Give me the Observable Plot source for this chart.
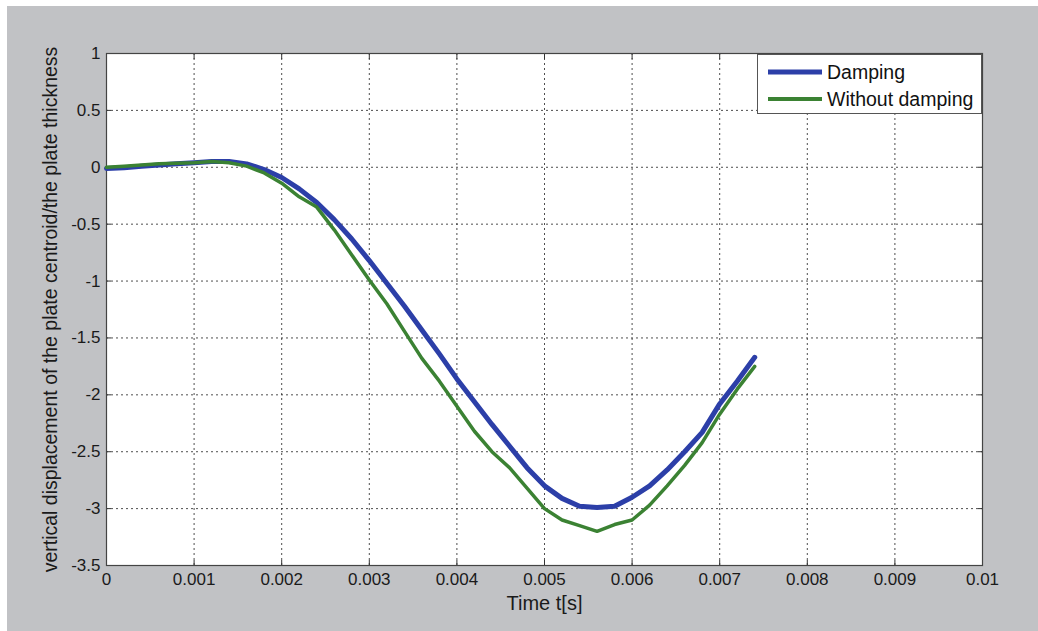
<!DOCTYPE html>
<html>
<head>
<meta charset="utf-8">
<script src="https://cdn.jsdelivr.net/npm/d3@7"></script>
<script src="https://cdn.jsdelivr.net/npm/@observablehq/plot@0.6"></script>
<style>
  html, body { margin: 0; padding: 0; background: #ffffff; }
  #bg { position: absolute; left: 7px; top: 6px; width: 1031px; height: 625px; background: #c1c2c5; }
  #chart { position: absolute; left: 0; top: 0; }
  #legend { position: absolute; left: 757px; top: 54px; width: 225px; height: 60px; background: #fff;
            border: 1px solid #555; box-sizing: border-box; font-family: "Liberation Sans", Arial, sans-serif;
            font-size: 19.5px; color: #111; }
  .row { position: absolute; left: 10px; display: flex; align-items: center; line-height: 22px; }
  .sw { display: inline-block; width: 54px; height: 20px; margin-right: 5px; }
</style>
</head>
<body>
<div id="bg"></div>
<div id="chart"></div>
<div id="legend">
  <div class="row" style="top:6px"><span class="sw" id="sw1"></span><span>Damping</span></div>
  <div class="row" style="top:33px"><span class="sw" id="sw2"></span><span>Without damping</span></div>
</div>
<script>
const time = [0, 0.0002, 0.0004, 0.0006, 0.0008, 0.001, 0.0012, 0.0014, 0.0016, 0.0018, 0.002, 0.0022, 0.0024, 0.0026, 0.0028, 0.003, 0.0032, 0.0034, 0.0036, 0.0038, 0.004, 0.0042, 0.0044, 0.0046, 0.0048, 0.005, 0.0052, 0.0054, 0.0056, 0.0058, 0.006, 0.0062, 0.0064, 0.0066, 0.0068, 0.007, 0.0072, 0.0074];
const damping = [-0.01, -0.005, 0.01, 0.02, 0.03, 0.04, 0.05, 0.05, 0.03, -0.02, -0.09, -0.19, -0.31, -0.46, -0.63, -0.82, -1.02, -1.22, -1.43, -1.64, -1.86, -2.06, -2.26, -2.45, -2.64, -2.8, -2.91, -2.98, -2.99, -2.98, -2.9, -2.8, -2.66, -2.5, -2.33, -2.08, -1.88, -1.67];
const withoutDamping = [0, 0.01, 0.02, 0.03, 0.035, 0.04, 0.05, 0.04, 0.01, -0.05, -0.14, -0.26, -0.35, -0.55, -0.77, -0.99, -1.2, -1.44, -1.68, -1.88, -2.1, -2.32, -2.5, -2.64, -2.82, -3.0, -3.1, -3.15, -3.2, -3.14, -3.1, -2.97, -2.8, -2.62, -2.42, -2.17, -1.95, -1.75];
const xTicks = [0, 0.001, 0.002, 0.003, 0.004, 0.005, 0.006, 0.007, 0.008, 0.009, 0.01];
const yTicks = [1, 0.5, 0, -0.5, -1, -1.5, -2, -2.5, -3, -3.5];
const seriesNames = ["Damping", "Without damping"];
const colors = ["#2c3fa8", "#3b8233"];

const dampData = time.map((t, i) => ({t, v: damping[i]}));
const noDampData = time.map((t, i) => ({t, v: withoutDamping[i]}));

const fmt = d => String(d);
const chart = Plot.plot({
  width: 1038, height: 631,
  marginTop: 53, marginRight: 56, marginBottom: 66, marginLeft: 106,
  style: { background: "transparent", fontFamily: "Liberation Sans, Arial, sans-serif", fontSize: "17px", color: "#1a1a1a" },
  x: { domain: [0, 0.01], ticks: xTicks },
  y: { domain: [-3.5, 1], ticks: yTicks },
  marks: [
    Plot.frame({ fill: "white", stroke: null }),
    Plot.gridX(xTicks.slice(1, -1), { stroke: "#222", strokeOpacity: 0.8, strokeDasharray: "2,3", strokeWidth: 1 }),
    Plot.gridY(yTicks.slice(1, -1), { stroke: "#222", strokeOpacity: 0.8, strokeDasharray: "2,3", strokeWidth: 1 }),
    Plot.text(xTicks, { x: d => d, frameAnchor: "bottom", dy: 14, lineAnchor: "middle", text: fmt, fontSize: 17, fill: "#1a1a1a" }),
    Plot.text(yTicks, { y: d => d, frameAnchor: "left", dx: -6, textAnchor: "end", text: fmt, fontSize: 17, fill: "#1a1a1a" }),
    Plot.axisX({ ticks: xTicks, anchor: "bottom", tickSize: -5, tickFormat: () => "", label: null, stroke: "#333" }),
    Plot.axisX({ ticks: xTicks, anchor: "top", tickSize: -5, tickFormat: () => "", label: null, stroke: "#333" }),
    Plot.axisY({ ticks: yTicks, anchor: "left", tickSize: -5, tickFormat: () => "", label: null, stroke: "#333" }),
    Plot.axisY({ ticks: yTicks, anchor: "right", tickSize: -5, tickFormat: () => "", label: null, stroke: "#333" }),
    Plot.frame({ stroke: "#444", strokeWidth: 1.2 }),
    Plot.line(dampData, { x: "t", y: "v", stroke: colors[0], strokeWidth: 5, strokeLinejoin: "round" }),
    Plot.line(noDampData, { x: "t", y: "v", stroke: colors[1], strokeWidth: 3.5, strokeLinejoin: "round" }),
    Plot.text(["Time t[s]"], { frameAnchor: "bottom", dy: 38, lineAnchor: "middle", fontSize: 20, fill: "#1a1a1a", textAnchor: "middle" }),
    Plot.text(["vertical displacement of the plate centroid/the plate thickness"], { frameAnchor: "left", dx: -56, rotate: -90, fontSize: 19.5, fill: "#1a1a1a", textAnchor: "middle" })
  ]
});
document.getElementById("chart").appendChild(chart);

function swatch(id, color, w) {
  const s = d3.select("#" + id).append("svg").attr("width", 54).attr("height", 20);
  s.append("line").attr("x1", 0).attr("x2", 54).attr("y1", 10).attr("y2", 10).attr("stroke", color).attr("stroke-width", w);
}
swatch("sw1", colors[0], 5);
swatch("sw2", colors[1], 4);
</script>
</body>
</html>
